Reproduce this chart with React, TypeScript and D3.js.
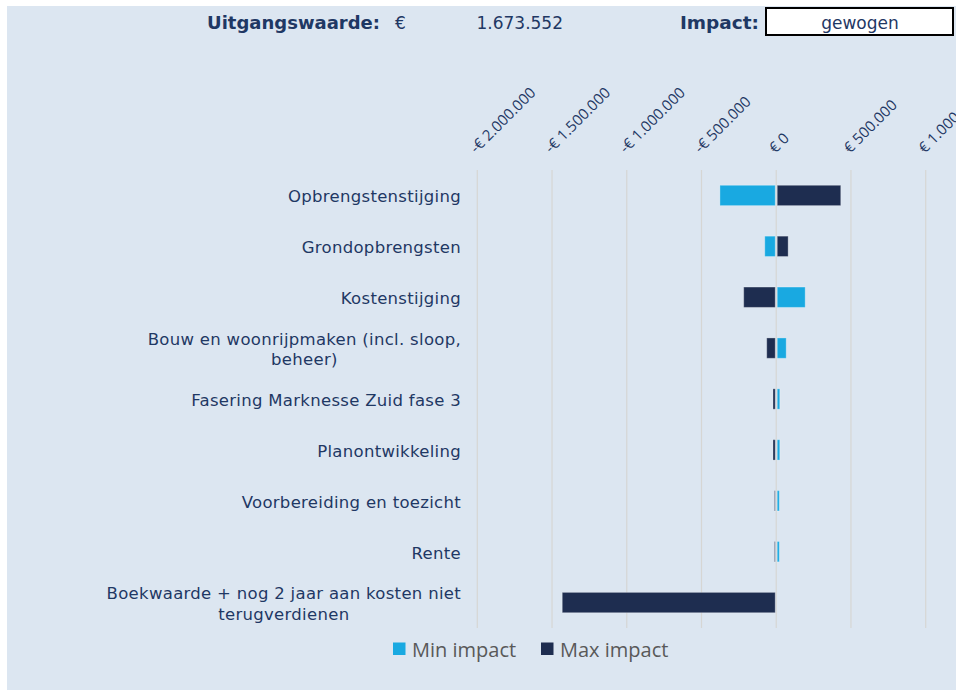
import React, { useEffect, useRef } from "react";
import * as d3 from "d3";

const categories: string[][] = [
  ["Opbrengstenstijging"],
  ["Grondopbrengsten"],
  ["Kostenstijging"],
  ["Bouw en woonrijpmaken (incl. sloop,", "beheer)"],
  ["Fasering Marknesse Zuid fase 3"],
  ["Planontwikkeling"],
  ["Voorbereiding en toezicht"],
  ["Rente"],
  ["Boekwaarde + nog 2 jaar aan kosten niet", "terugverdienen"],
];
const minImpact = [-370000, -70000, 187000, 60000, 17000, 17000, 14000, 14000, 0];
const maxImpact = [425000, 73000, -211000, -57000, -15000, -15000, -5000, -5000, -1425000];
const tickValues = [-2000000, -1500000, -1000000, -500000, 0, 500000, 1000000];
const seriesNames = ["Min impact", "Max impact"];
const headerLabel = "Uitgangswaarde:";
const headerValue = "1.673.552";
const impactLabel = "Impact:";
const impactValue = "gewogen";

const W = 956;
const H = 691;
const NAVY = "#1f3864";
const LIGHT = "#19a9e1";
const DARK = "#1e2d50";

function fmt(v: number): string {
  const s = d3.format(",")(Math.abs(v)).replace(/,/g, ".");
  return (v < 0 ? "-" : "") + "€ " + s;
}

export default function App() {
  const ref = useRef<SVGSVGElement | null>(null);
  useEffect(() => {
    const svg = d3.select(ref.current);
    svg.selectAll("*").remove();

    svg.append("rect").attr("x", 7).attr("y", 6).attr("width", W - 7).attr("height", 684).attr("fill", "#dce6f1");

    // Header
    const hdr = svg.append("g").attr("font-family", "'DejaVu Sans', Verdana, sans-serif").attr("fill", NAVY);
    hdr.append("text").attr("x", 380).attr("y", 29).attr("text-anchor", "end").attr("font-weight", "bold").attr("font-size", 18).text(headerLabel);
    hdr.append("text").attr("x", 395).attr("y", 29).attr("font-size", 17).text("€");
    hdr.append("text").attr("x", 563).attr("y", 29).attr("text-anchor", "end").attr("font-size", 17).text(headerValue);
    hdr.append("text").attr("x", 759).attr("y", 29).attr("text-anchor", "end").attr("font-weight", "bold").attr("font-size", 18.5).text(impactLabel);
    svg.append("rect").attr("x", 766).attr("y", 8).attr("width", 187).attr("height", 27).attr("fill", "#ffffff").attr("stroke", "#000").attr("stroke-width", 2);
    svg.append("text").attr("x", 860).attr("y", 29).attr("text-anchor", "middle").attr("font-family", "'DejaVu Sans', Verdana, sans-serif").attr("font-size", 17).attr("fill", NAVY).text(impactValue);

    const x = d3.scaleLinear().domain([-2000000, 1000000]).range([477.3, 925.7]);
    const keys = categories.map((c) => c.join(" "));
    const y = d3.scaleBand<string>().domain(keys).range([170, 628]).paddingInner(0.6).paddingOuter(0.3);
    const top = 170, bottom = 628;

    // gridlines
    svg.append("g").selectAll("line").data(tickValues.filter((t) => x(t) < W)).enter().append("line")
      .attr("x1", (d) => x(d)).attr("x2", (d) => x(d)).attr("y1", top).attr("y2", bottom)
      .attr("stroke", "#d6d6d4").attr("stroke-width", 1.2);

    // tick labels
    svg.append("g").selectAll("text").data(tickValues).enter().append("text")
      .attr("transform", (d) => `translate(${x(d) - 1},154) rotate(-45)`)
      .attr("font-family", "'Open Sans', sans-serif").attr("font-size", 15).attr("fill", NAVY)
      .text((d) => fmt(d));

    // bars
    const bw = y.bandwidth();
    const drawSeries = (vals: number[], color: string) => {
      svg.append("g").selectAll("rect").data(vals).enter().append("rect")
        .attr("x", (d) => Math.min(x(0), x(d)) + (d >= 0 ? 1 : -1))
        .attr("y", (_d, i) => y(keys[i])!)
        .attr("width", (d) => Math.max(0, Math.abs(x(d) - x(0))))
        .attr("height", bw)
        .attr("fill", color)
        .attr("stroke", "rgba(255,255,255,0.3)")
        .attr("stroke-width", 1)
        .attr("display", (d) => (d === 0 ? "none" : null));
    };
    drawSeries(minImpact, LIGHT);
    drawSeries(maxImpact, DARK);

    // category labels
    const labG = svg.append("g").attr("font-family", "'DejaVu Sans', Verdana, sans-serif").attr("font-size", 16.5).attr("letter-spacing", 0.3).attr("fill", NAVY);
    categories.forEach((lines, i) => {
      const cy = y(keys[i])! + bw / 2;
      const g = labG.append("g");
      const n = lines.length;
      const texts = lines.map((l, j) =>
        g.append("text").attr("x", 461).attr("y", cy + (j - (n - 1) / 2) * 20.5).attr("dy", "0.42em").attr("text-anchor", "end").text(l)
      );
      if (n > 1) {
        const widths = texts.map((t) => (t.node() as SVGTextElement).getComputedTextLength());
        const mw = Math.max(...widths);
        const cx = 461 - mw / 2;
        texts.forEach((t) => t.attr("x", cx).attr("text-anchor", "middle"));
      }
    });

    // legend
    const leg = svg.append("g").attr("font-family", "'Open Sans', sans-serif").attr("font-size", 20).attr("fill", "#595959");
    const legX = [393, 541];
    [LIGHT, DARK].forEach((c, i) => {
      leg.append("rect").attr("x", legX[i]).attr("y", 642.5).attr("width", 12.5).attr("height", 12.5).attr("fill", c);
      leg.append("text").attr("x", legX[i] + 19).attr("y", 656.5).text(seriesNames[i]);
    });
  }, []);

  return (
    <svg ref={ref} width={W} height={H} style={{ position: "absolute", left: 0, top: 0, background: "#fff" }} />
  );
}
